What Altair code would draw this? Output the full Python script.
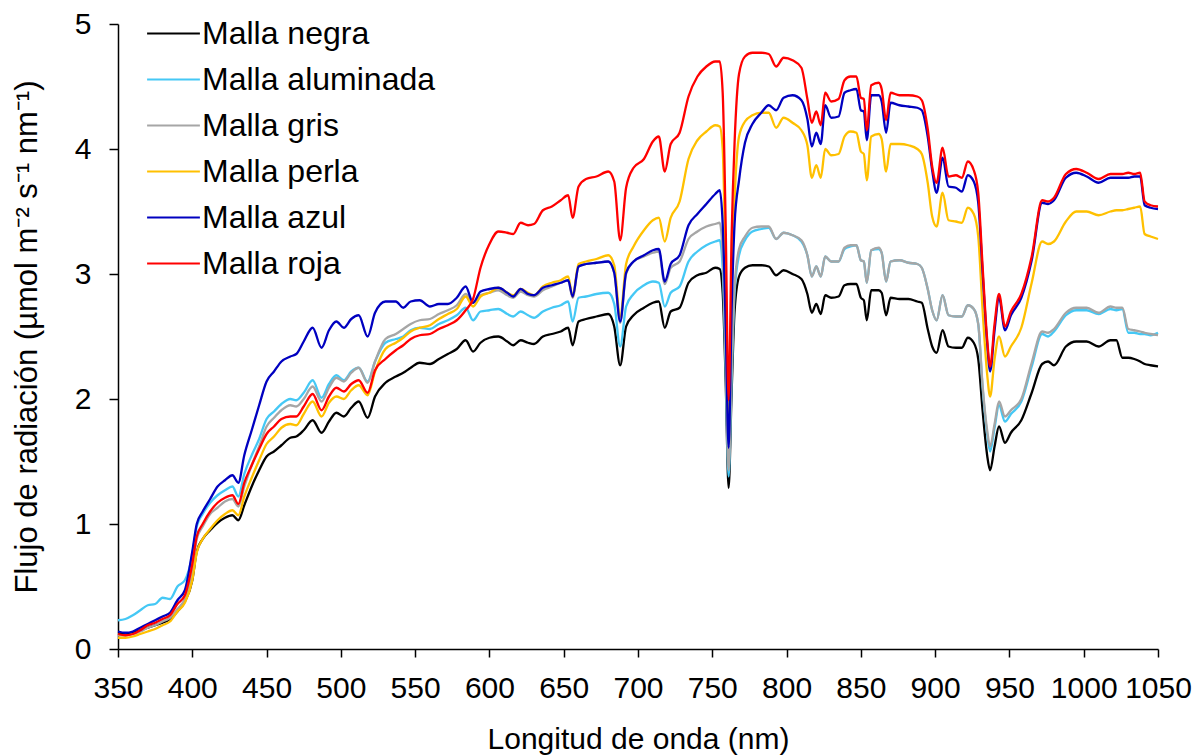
import altair as alt
import pandas as pd

# Wavelength grid (nm)
wavelength = [350, 355, 360, 365, 370, 375, 380, 385, 390, 395, 400,
              403, 407, 412, 417, 422, 427, 431, 435, 440, 445, 450, 455, 460, 466, 470, 475, 481,
              487, 492, 497, 502, 507, 512, 518, 523, 530, 537, 542, 547, 553, 560, 566, 572, 578, 584, 589, 594, 600,
              606, 612, 616, 621, 626, 630, 636, 642, 648, 653, 656, 660, 665, 672, 680, 684, 688, 692, 697, 704,
              710, 714, 718, 722, 728, 734, 740, 746, 752, 755, 757, 759, 761, 763, 765, 768,
              772, 777, 783, 788, 793, 798, 804, 810, 814, 817, 820, 823, 826, 830, 835, 839, 843, 847, 850, 852,
              854, 857, 862, 864, 867, 870, 876, 882, 888, 891, 895, 898, 901, 905, 909, 914, 918, 922, 926, 929,
              932, 935, 937, 940, 943, 947, 951, 958, 965, 972, 976, 980, 988, 995, 1002, 1010, 1018, 1022, 1026,
              1030, 1034, 1038, 1041, 1045, 1050]

negra = [0.12, 0.12, 0.13, 0.15, 0.17, 0.19, 0.21, 0.24, 0.30, 0.38, 0.55,
         0.78, 0.88, 0.95, 1.01, 1.05, 1.07, 1.03, 1.15, 1.30, 1.43, 1.54, 1.58, 1.63, 1.69, 1.70, 1.75, 1.83,
         1.73, 1.82, 1.89, 1.86, 1.93, 1.98, 1.85, 2.02, 2.13, 2.18, 2.21, 2.25, 2.29, 2.28, 2.32, 2.36, 2.40, 2.47, 2.38, 2.45, 2.49,
         2.50, 2.46, 2.43, 2.47, 2.45, 2.44, 2.50, 2.52, 2.54, 2.57, 2.43, 2.62, 2.64, 2.66, 2.68, 2.58, 2.27, 2.58, 2.67, 2.73,
         2.77, 2.78, 2.57, 2.70, 2.73, 2.93, 2.99, 3.01, 3.05, 3.04, 2.85, 2.15, 1.29, 2.05, 2.70, 2.98,
         3.05, 3.07, 3.07, 3.06, 2.99, 3.03, 3.00, 2.96, 2.84, 2.69, 2.76, 2.68, 2.83, 2.81, 2.82, 2.91, 2.92, 2.92, 2.81, 2.79,
         2.63, 2.87, 2.87, 2.85, 2.67, 2.81, 2.80, 2.80, 2.78, 2.77, 2.56, 2.42, 2.37, 2.55, 2.42, 2.41, 2.41, 2.49, 2.45, 2.32,
         1.90, 1.55, 1.43, 1.62, 1.78, 1.65, 1.73, 1.83, 2.05, 2.28, 2.30, 2.27, 2.42, 2.46, 2.46, 2.42, 2.47, 2.47, 2.33,
         2.33, 2.32, 2.30, 2.28, 2.27, 2.26]

aluminada = [0.23, 0.24, 0.27, 0.31, 0.35, 0.36, 0.41, 0.40, 0.50, 0.55, 0.75,
             0.98, 1.08, 1.17, 1.23, 1.27, 1.30, 1.22, 1.40, 1.55, 1.68, 1.84, 1.90, 1.96, 2.00, 1.99, 2.05, 2.15,
             2.01, 2.12, 2.19, 2.15, 2.22, 2.25, 2.14, 2.30, 2.45, 2.48, 2.50, 2.55, 2.57, 2.56, 2.60, 2.63, 2.67, 2.73, 2.63, 2.70, 2.71,
             2.72, 2.68, 2.66, 2.70, 2.67, 2.65, 2.70, 2.73, 2.75, 2.78, 2.62, 2.81, 2.82, 2.84, 2.85, 2.76, 2.42, 2.74, 2.84, 2.91,
             2.94, 2.93, 2.74, 2.85, 2.90, 3.10, 3.18, 3.23, 3.26, 3.27, 3.05, 2.25, 1.38, 2.15, 2.85, 3.15,
             3.27, 3.34, 3.36, 3.37, 3.28, 3.33, 3.31, 3.26, 3.15, 2.98, 3.06, 2.98, 3.14, 3.10, 3.10, 3.20, 3.22, 3.23, 3.11, 3.10,
             2.93, 3.19, 3.20, 3.17, 2.94, 3.10, 3.11, 3.09, 3.08, 3.05, 2.88, 2.71, 2.63, 2.83, 2.67, 2.66, 2.66, 2.75, 2.72, 2.60,
             2.08, 1.72, 1.58, 1.77, 1.95, 1.82, 1.88, 1.98, 2.26, 2.52, 2.50, 2.54, 2.67, 2.71, 2.71, 2.68, 2.72, 2.71, 2.72,
             2.53, 2.53, 2.52, 2.52, 2.51, 2.53]

gris = [0.11, 0.11, 0.12, 0.14, 0.17, 0.19, 0.22, 0.25, 0.32, 0.40, 0.62,
        0.88, 0.98, 1.08, 1.13, 1.18, 1.20, 1.14, 1.30, 1.47, 1.62, 1.78, 1.85, 1.91, 1.95, 1.94, 2.00, 2.10,
        1.98, 2.09, 2.17, 2.14, 2.21, 2.25, 2.13, 2.30, 2.48, 2.52, 2.56, 2.60, 2.63, 2.64, 2.68, 2.71, 2.75, 2.84, 2.77, 2.83, 2.85,
        2.87, 2.83, 2.81, 2.86, 2.83, 2.82, 2.87, 2.90, 2.93, 2.95, 2.81, 3.06, 3.08, 3.09, 3.10, 3.01, 2.61, 3.00, 3.10, 3.14,
        3.17, 3.18, 2.92, 3.05, 3.10, 3.28, 3.34, 3.38, 3.40, 3.41, 3.15, 2.35, 1.43, 2.25, 2.90, 3.20,
        3.30, 3.37, 3.38, 3.38, 3.28, 3.33, 3.31, 3.27, 3.15, 2.98, 3.06, 2.98, 3.14, 3.10, 3.10, 3.21, 3.23, 3.23, 3.11, 3.10,
        2.93, 3.19, 3.21, 3.17, 2.94, 3.10, 3.11, 3.09, 3.08, 3.05, 2.88, 2.71, 2.63, 2.83, 2.67, 2.66, 2.66, 2.75, 2.72, 2.60,
        2.10, 1.75, 1.62, 1.80, 1.98, 1.86, 1.91, 2.00, 2.29, 2.54, 2.53, 2.56, 2.69, 2.73, 2.73, 2.69, 2.74, 2.73, 2.73,
        2.56, 2.55, 2.54, 2.53, 2.52, 2.51]

perla = [0.09, 0.09, 0.10, 0.12, 0.14, 0.16, 0.19, 0.22, 0.30, 0.37, 0.55,
         0.77, 0.88, 0.96, 1.03, 1.08, 1.11, 1.07, 1.22, 1.37, 1.51, 1.64, 1.70, 1.77, 1.80, 1.79, 1.88, 1.98,
         1.86, 1.97, 2.02, 2.00, 2.07, 2.11, 2.03, 2.22, 2.40, 2.45, 2.49, 2.54, 2.57, 2.59, 2.64, 2.68, 2.72, 2.82, 2.74, 2.82, 2.85,
         2.89, 2.85, 2.83, 2.88, 2.85, 2.83, 2.90, 2.93, 2.95, 2.98, 2.82, 3.08, 3.10, 3.12, 3.15, 3.07, 2.66, 3.08, 3.22, 3.35,
         3.43, 3.45, 3.26, 3.45, 3.58, 3.92, 4.07, 4.14, 4.19, 4.18, 4.00, 3.00, 1.78, 2.90, 3.60, 4.10,
         4.22, 4.27, 4.29, 4.29, 4.17, 4.25, 4.21, 4.15, 4.03, 3.77, 3.87, 3.77, 4.00, 3.95, 3.96, 4.10, 4.14, 4.13, 3.98, 3.96,
         3.75, 4.10, 4.12, 4.08, 3.82, 4.04, 4.04, 4.03, 4.00, 3.96, 3.73, 3.46, 3.38, 3.65, 3.43, 3.42, 3.41, 3.53, 3.48, 3.30,
         2.70, 2.20, 2.02, 2.32, 2.50, 2.34, 2.42, 2.57, 2.93, 3.26, 3.24, 3.26, 3.42, 3.50, 3.50, 3.47, 3.50, 3.51, 3.51,
         3.52, 3.53, 3.54, 3.32, 3.30, 3.28]

azul = [0.14, 0.13, 0.14, 0.17, 0.20, 0.23, 0.26, 0.29, 0.39, 0.47, 0.78,
        1.00, 1.10, 1.20, 1.30, 1.35, 1.39, 1.33, 1.55, 1.75, 1.95, 2.14, 2.22, 2.30, 2.34, 2.36, 2.46, 2.57,
        2.41, 2.55, 2.62, 2.57, 2.64, 2.67, 2.50, 2.69, 2.78, 2.78, 2.73, 2.78, 2.79, 2.74, 2.76, 2.76, 2.81, 2.90, 2.77, 2.86, 2.88,
        2.89, 2.85, 2.82, 2.88, 2.84, 2.83, 2.89, 2.91, 2.93, 2.95, 2.82, 3.06, 3.08, 3.09, 3.10, 3.01, 2.62, 3.01, 3.10, 3.15,
        3.19, 3.20, 2.94, 3.08, 3.15, 3.39, 3.48, 3.56, 3.64, 3.67, 3.40, 2.60, 1.61, 2.70, 3.40, 3.75,
        4.05, 4.20, 4.29, 4.35, 4.31, 4.41, 4.43, 4.39, 4.24, 4.02, 4.13, 4.04, 4.35, 4.25, 4.26, 4.45, 4.47, 4.48, 4.31, 4.30,
        4.07, 4.43, 4.43, 4.38, 4.13, 4.37, 4.35, 4.34, 4.33, 4.31, 4.10, 3.83, 3.65, 3.93, 3.70, 3.69, 3.66, 3.79, 3.74, 3.57,
        3.00, 2.45, 2.22, 2.55, 2.81, 2.55, 2.67, 2.81, 3.11, 3.57, 3.56, 3.59, 3.77, 3.81, 3.78, 3.73, 3.77, 3.77, 3.77,
        3.77, 3.78, 3.78, 3.55, 3.53, 3.52]

roja = [0.12, 0.11, 0.12, 0.15, 0.19, 0.21, 0.24, 0.27, 0.36, 0.43, 0.68,
        0.90, 1.00, 1.10, 1.17, 1.21, 1.23, 1.16, 1.33, 1.47, 1.60, 1.72, 1.78, 1.84, 1.86, 1.86, 1.94, 2.04,
        1.91, 2.02, 2.09, 2.06, 2.12, 2.15, 2.05, 2.23, 2.32, 2.39, 2.43, 2.48, 2.51, 2.52, 2.56, 2.59, 2.63, 2.71, 2.80, 3.05, 3.24,
        3.34, 3.33, 3.32, 3.41, 3.39, 3.40, 3.51, 3.54, 3.59, 3.63, 3.45, 3.70, 3.76, 3.78, 3.82, 3.74, 3.27, 3.69, 3.85, 3.92,
        4.06, 4.10, 3.82, 4.04, 4.13, 4.42, 4.58, 4.66, 4.70, 4.70, 4.45, 3.40, 1.99, 3.30, 4.05, 4.60,
        4.74, 4.77, 4.77, 4.76, 4.66, 4.73, 4.71, 4.65, 4.40, 4.21, 4.30, 4.19, 4.45, 4.38, 4.40, 4.55, 4.58, 4.58, 4.41, 4.40,
        4.15, 4.51, 4.53, 4.48, 4.23, 4.45, 4.43, 4.43, 4.42, 4.39, 4.16, 3.86, 3.73, 4.01, 3.78, 3.79, 3.77, 3.90, 3.83, 3.65,
        3.05, 2.48, 2.26, 2.60, 2.84, 2.58, 2.70, 2.84, 3.14, 3.59, 3.58, 3.61, 3.80, 3.84, 3.81, 3.76, 3.80, 3.80, 3.80,
        3.81, 3.80, 3.81, 3.58, 3.55, 3.54]

series_names = ["Malla negra", "Malla aluminada", "Malla gris", "Malla perla", "Malla azul", "Malla roja"]
series_colors = ["#000000", "#45C8F5", "#A6A6A6", "#FFC000", "#0000C0", "#FF0000"]
series_values = [negra, aluminada, gris, perla, azul, roja]
x_ticks = list(range(350, 1051, 50))
y_ticks = [0, 1, 2, 3, 4, 5]

rows = []
for name, vals in zip(series_names, series_values):
    assert len(vals) == len(wavelength), (name, len(vals), len(wavelength))
    for w, v in zip(wavelength, vals):
        rows.append({"wl": w, "flujo": v, "serie": name})
df = pd.DataFrame(rows)

FONT = "Liberation Sans"

color = alt.Color(
    "serie:N",
    scale=alt.Scale(domain=series_names, range=series_colors),
    legend=alt.Legend(
        title=None,
        orient="none",
        legendX=32,
        legendY=-14,
        padding=0,
        symbolType="M-1.2,0H1.2",
        symbolSize=1936,
        symbolStrokeWidth=2.2,
        labelFontSize=32,
        labelFont=FONT,
        labelColor="#000000",
        labelOffset=5,
        labelLimit=400,
        rowPadding=6,
    ),
)

x = alt.X(
    "wl:Q",
    scale=alt.Scale(domain=[350, 1050], nice=False, zero=False),
    axis=alt.Axis(
        values=x_ticks,
        format="d",
        title="Longitud de onda (nm)",
        labelFontSize=30,
        labelFont=FONT,
        labelColor="#000000",
        labelFlush=False,
        labelOverlap=False,
        labelBaseline="alphabetic",
        labelPadding=40,
        tickSize=8,
        tickWidth=1.5,
        tickColor="#000000",
        domainColor="#000000",
        domainWidth=1.5,
        grid=False,
        titleFontSize=30,
        titleFont=FONT,
        titleFontWeight="normal",
        titleColor="#000000",
        titleBaseline="alphabetic",
        titleY=99,
    ),
)

y = alt.Y(
    "flujo:Q",
    scale=alt.Scale(domain=[0, 5], nice=False),
    axis=alt.Axis(
        values=y_ticks,
        title="Flujo de radiación (µmol m⁻² s⁻¹ nm⁻¹)",
        labelFontSize=30,
        labelFont=FONT,
        labelColor="#000000",
        labelPadding=18,
        labelFlush=False,
        tickSize=9,
        tickWidth=1.5,
        tickColor="#000000",
        domainColor="#000000",
        domainWidth=1.5,
        grid=False,
        titleFontSize=31,
        titleFont=FONT,
        titleFontWeight="normal",
        titleColor="#000000",
        titleBaseline="alphabetic",
        titleX=-82,
    ),
)

layers = []
for name in series_names:
    layers.append(
        alt.Chart(df)
        .transform_filter(alt.datum.serie == name)
        .mark_line(strokeWidth=2.3, interpolate="monotone")
        .encode(x=x, y=y, color=color)
    )

chart = (
    alt.layer(*layers)
    .properties(
        width=1040,
        height=625,
        autosize=alt.AutoSizeParams(type="none"),
        padding={"left": 118, "top": 24, "right": 38, "bottom": 106},
        background="white",
    )
    .configure_view(stroke=None)
)

chart.save("out.html", embed_options={"renderer": "svg", "actions": False})
